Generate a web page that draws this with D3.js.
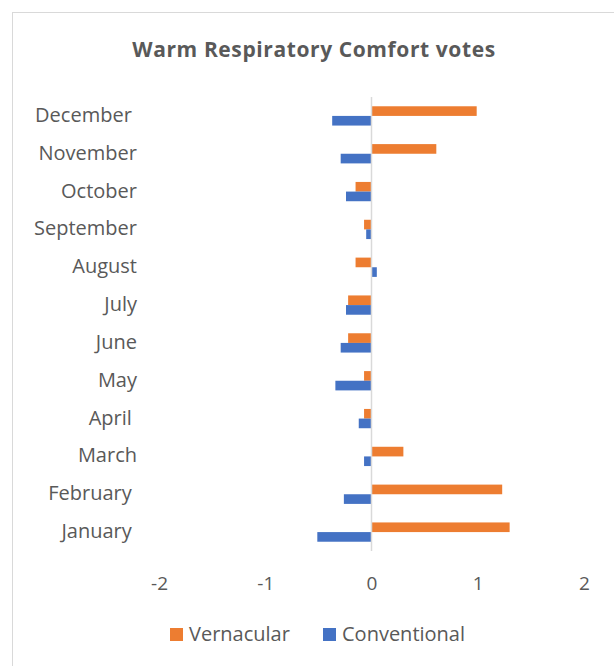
<!DOCTYPE html>
<html>
<head>
<meta charset="utf-8">
<script src="https://cdn.jsdelivr.net/npm/d3@7"></script>
<style>
  html, body { margin: 0; padding: 0; background: #fff; }
  svg { display: block; }
  text { font-family: "Open Sans", "Noto Sans", sans-serif; fill: #595959; }
</style>
</head>
<body>
<svg id="chart" width="614" height="666"></svg>
<script>
const title = "Warm Respiratory Comfort votes";
const months = ["January ", "February ", "March", "April ", "May", "June", "July", "August", "September", "October", "November", "December "];
const seriesNames = ["Vernacular", "Conventional"];
const vernacular = [1.30, 1.23, 0.30, -0.07, -0.07, -0.22, -0.22, -0.15, -0.07, -0.15, 0.61, 0.99];
const conventional = [-0.51, -0.26, -0.07, -0.12, -0.34, -0.29, -0.24, 0.05, -0.05, -0.24, -0.29, -0.37];
const xTicks = [-2, -1, 0, 1, 2];
const colors = ["#ED7D31", "#4472C4"];

const svg = d3.select("#chart");

// chart border
svg.append("rect")
  .attr("x", 12.5).attr("y", 12.5)
  .attr("width", 620).attr("height", 680)
  .attr("fill", "#fff").attr("stroke", "#D9D9D9").attr("stroke-width", 1);

svg.append("text")
  .attr("x", 314).attr("y", 57)
  .attr("text-anchor", "middle")
  .style("font-size", "21px").style("font-weight", "bold")
  .style("letter-spacing", "0.6px")
  .text(title);

const x = d3.scaleLinear().domain([-2, 2]).range([159, 584]);
const y = d3.scaleBand().domain(months.slice().reverse()).range([97, 551]).paddingInner(0.49).paddingOuter(0.245);
const sub = d3.scaleBand().domain(seriesNames).range([0, y.bandwidth()]);

const data = months.map((m, i) => ({ month: m, values: [vernacular[i], conventional[i]] }));

const g = svg.append("g");
const groups = g.selectAll("g.cat").data(data).join("g")
  .attr("class", "cat")
  .attr("transform", d => `translate(0,${y(d.month)})`);

groups.selectAll("rect").data(d => d.values.map((v, k) => ({ v, k })))
  .join("rect")
  .attr("x", d => x(Math.min(0, d.v)))
  .attr("width", d => Math.abs(x(d.v) - x(0)))
  .attr("y", d => sub(seriesNames[d.k]))
  .attr("height", sub.bandwidth())
  .attr("fill", d => colors[d.k]);

// zero axis line
g.append("line")
  .attr("x1", x(0)).attr("x2", x(0))
  .attr("y1", 97).attr("y2", 551)
  .attr("stroke", "#D9D9D9").attr("stroke-width", 1.5);

// category labels
g.selectAll("text.cat").data(months).join("text")
  .attr("class", "cat")
  .attr("x", 137)
  .attr("y", d => y(d) + y.bandwidth() / 2)
  .attr("dy", "0.3em")
  .attr("text-anchor", "end")
  .style("font-size", "20px")
  .style("white-space", "pre")
  .text(d => d);

// x tick labels
const xAxis = d3.axisBottom(x).tickValues(xTicks).tickSize(0).tickPadding(0)
  .tickFormat(d => String(d));
const ax = svg.append("g").attr("transform", "translate(0,590)").call(xAxis);
ax.select(".domain").remove();
ax.selectAll("text").style("font-size", "19px").attr("fill", "#595959")
  .style("font-family", "'Open Sans', 'Noto Sans', sans-serif").attr("dy", "0").attr("y", 0);

// legend
const legend = svg.append("g").attr("transform", "translate(170,641)");
const legX = [0, 153];
seriesNames.forEach((s, i) => {
  const lg = legend.append("g").attr("transform", `translate(${legX[i]},0)`);
  lg.append("rect").attr("x", 0).attr("y", -13).attr("width", 13).attr("height", 13).attr("fill", colors[i]);
  lg.append("text").attr("x", 19).attr("y", 0).style("font-size", "20px").text(s);
});
</script>
</body>
</html>
